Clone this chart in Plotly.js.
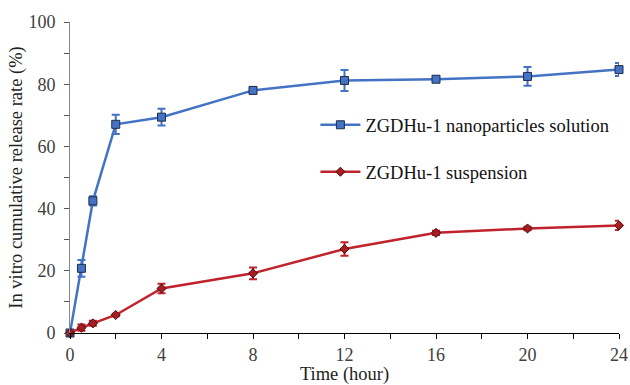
<!DOCTYPE html>
<html>
<head>
<meta charset="utf-8">
<script src="https://cdn.plot.ly/plotly-3.0.1.min.js"></script>
<style>html,body{margin:0;padding:0;background:#fff;}#chart{width:630px;height:385px;}</style>
</head>
<body>
<div id="chart"></div>
<script>
const timeHours = [0, 0.5, 1, 2, 4, 8, 12, 16, 20, 24];
const nanoName = "ZGDHu-1 nanoparticles solution";
const nanoValues = [0, 20.8, 42.5, 67.1, 69.4, 78.0, 81.2, 81.6, 82.5, 84.7];
const nanoErrors = [0, 2.7, 1.5, 3.1, 2.7, 1.0, 3.4, 0.8, 3.0, 2.1];
const suspName = "ZGDHu-1 suspension";
const suspValues = [0, 1.7, 3.1, 5.8, 14.3, 19.2, 27.0, 32.2, 33.6, 34.6];
const suspErrors = [0, 1.0, 0.8, 0.4, 1.5, 1.9, 2.2, 0.7, 0.6, 1.5];
const xTickVals = [0, 4, 8, 12, 16, 20, 24];
const yTickVals = [0, 20, 40, 60, 80, 100];

const blue = "#4472C4";
const red = "#C0232B";
const font = "Liberation Serif, Times New Roman, serif";

const traces = [
  {
    x: timeHours, y: nanoValues, name: nanoName, type: "scatter", mode: "lines+markers",
    cliponaxis: false,
    line: {color: blue, width: 2.5},
    marker: {symbol: "square", size: 8, color: blue, line: {color: "#1f2d4a", width: 1}},
    error_y: {type: "data", array: nanoErrors, visible: true, color: blue, thickness: 2, width: 4},
    legend: "legend"
  },
  {
    x: timeHours, y: suspValues, name: suspName, type: "scatter", mode: "lines+markers",
    cliponaxis: false,
    line: {color: red, width: 2.5},
    marker: {symbol: "diamond", size: 7, color: "#A81C24", line: {color: "#4a0a0a", width: 1}},
    error_y: {type: "data", array: suspErrors, visible: true, color: red, thickness: 2, width: 4},
    legend: "legend2"
  }
];

const legendFont = {family: font, size: 18.5, color: "#111"};
const layout = {
  width: 630, height: 385,
  margin: {l: 69.5, r: 11, t: 21.5, b: 52},
  paper_bgcolor: "#fff", plot_bgcolor: "#fff",
  font: {family: font, size: 18, color: "#333"},
  showlegend: true,
  legend: {x: 0.447, xanchor: "left", y: 0.668, yanchor: "middle", itemwidth: 40, bgcolor: "rgba(0,0,0,0)", font: legendFont},
  legend2: {x: 0.447, xanchor: "left", y: 0.517, yanchor: "middle", itemwidth: 40, bgcolor: "rgba(0,0,0,0)", font: legendFont},
  xaxis: {
    range: [0, 24], tickvals: xTickVals, ticktext: xTickVals.map(String),
    showgrid: false, zeroline: false, showline: true, linecolor: "#000", linewidth: 1,
    ticks: "outside", ticklen: 5, tickcolor: "#000",
    minor: {dtick: 2, tick0: 0, ticks: "outside", ticklen: 5, tickcolor: "#000", showgrid: false},
    tickfont: {family: font, size: 18, color: "#404040"},
    title: {text: "Time (hour)", font: {family: font, size: 18.5, color: "#222"}, standoff: 8}
  },
  yaxis: {
    range: [0, 100], tickvals: yTickVals, ticktext: yTickVals.map(String),
    showgrid: false, zeroline: false, showline: true, linecolor: "#888", linewidth: 1,
    ticks: "outside", ticklen: 5, tickcolor: "#555", ticklabelstandoff: 5,
    minor: {dtick: 10, tick0: 0, ticks: "outside", ticklen: 5, tickcolor: "#555", showgrid: false},
    tickfont: {family: font, size: 18, color: "#404040"},
    title: {text: "In vitro cumulative release rate (%)", font: {family: font, size: 18.5, color: "#222"}, standoff: 0}
  }
};

Plotly.newPlot("chart", traces, layout, {displayModeBar: false, staticPlot: true});
</script>
</body>
</html>
